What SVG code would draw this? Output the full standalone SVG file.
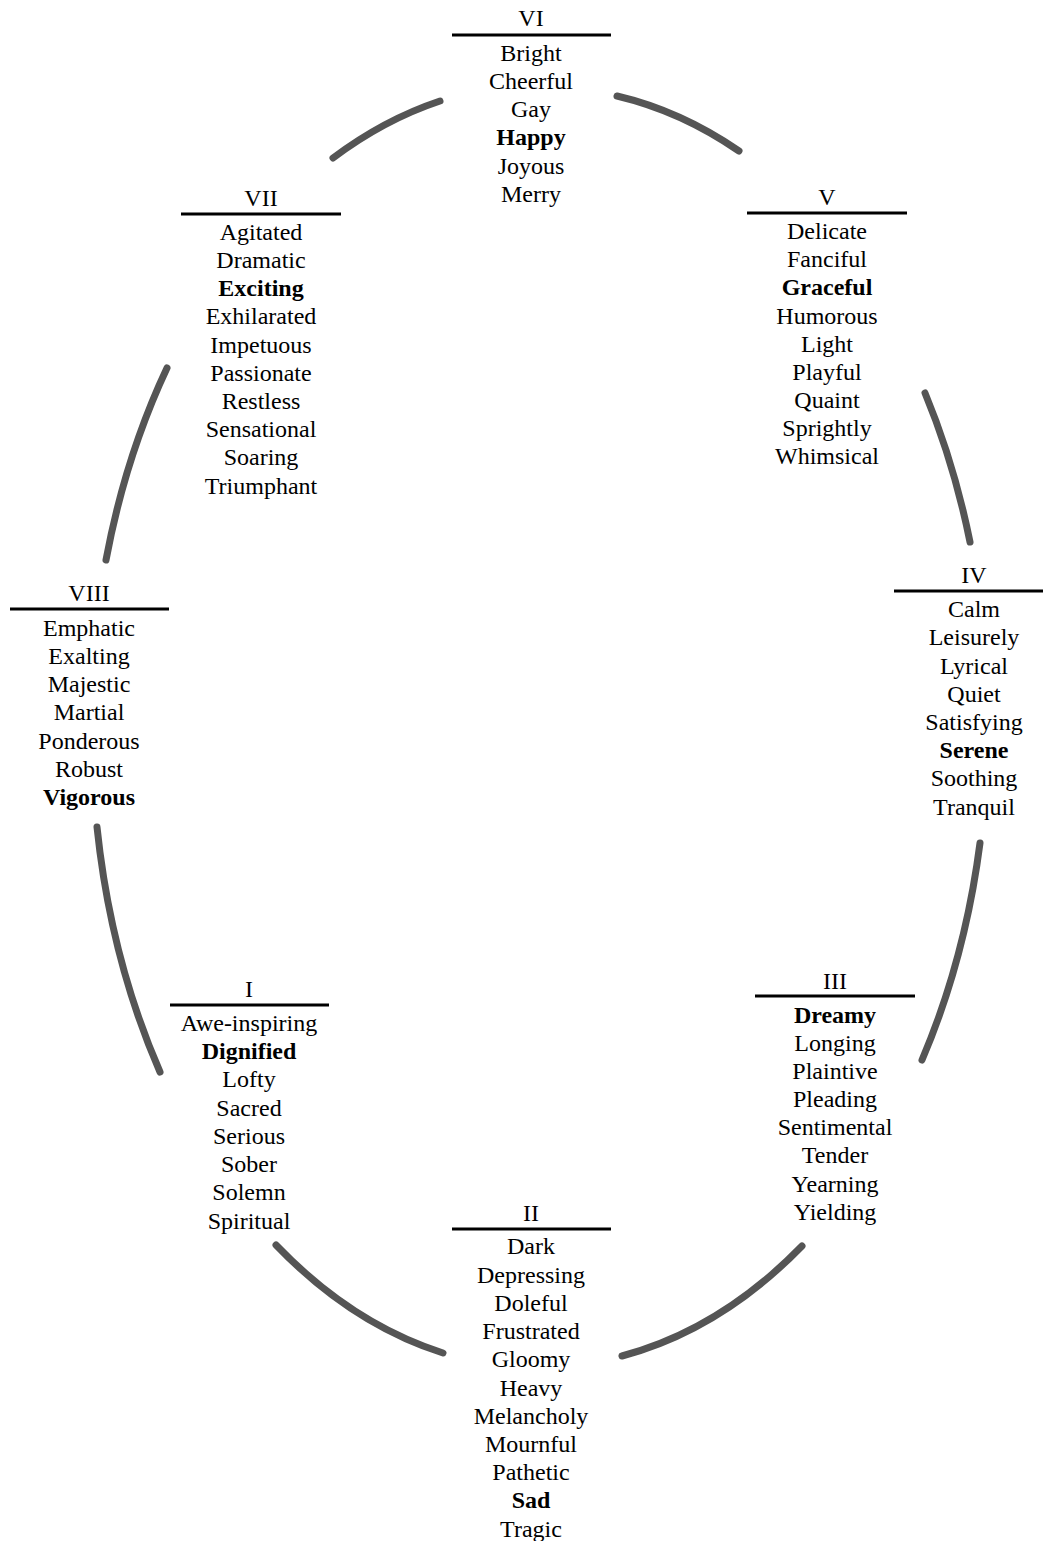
<svg xmlns="http://www.w3.org/2000/svg" width="1043" height="1541" viewBox="0 0 1043 1541" font-family="Liberation Serif, DejaVu Serif, serif">
<style>
text{font-size:24px;fill:#000;text-anchor:middle}
.b{font-weight:bold}
.rule{stroke:#000;stroke-width:3}
.arc{fill:none;stroke:#555;stroke-width:7;stroke-linecap:round}
</style>
<rect width="1043" height="1541" fill="#fff"/>
<g id="connectors">
<path class="arc" d="M617,96 A450,642 0 0 1 739,151"/>
<path class="arc" d="M925,393 A450,642 0 0 1 970,542"/>
<path class="arc" d="M980,843 A450,642 0 0 1 922,1060"/>
<path class="arc" d="M802,1246 A450,642 0 0 1 622,1356"/>
<path class="arc" d="M443,1353 A450,642 0 0 1 276,1245"/>
<path class="arc" d="M160,1072 A450,642 0 0 1 97,827"/>
<path class="arc" d="M106,560 A450,642 0 0 1 167,368"/>
<path class="arc" d="M333,158 A450,642 0 0 1 440,101"/>
</g>
<g id="group-VI" font-family="Liberation Serif, serif">
<text x="531" y="26">VI</text>
<line class="rule" x1="452" y1="35" x2="611" y2="35"/>
<text x="531" y="61">Bright</text>
<text x="531" y="89">Cheerful</text>
<text x="531" y="117">Gay</text>
<text x="531" y="145" class="b">Happy</text>
<text x="531" y="174">Joyous</text>
<text x="531" y="202">Merry</text>
</g>
<g id="group-VII">
<text x="261" y="206">VII</text>
<line class="rule" x1="181" y1="214" x2="341" y2="214"/>
<text x="261" y="240">Agitated</text>
<text x="261" y="268">Dramatic</text>
<text x="261" y="296" class="b">Exciting</text>
<text x="261" y="324">Exhilarated</text>
<text x="261" y="353">Impetuous</text>
<text x="261" y="381">Passionate</text>
<text x="261" y="409">Restless</text>
<text x="261" y="437">Sensational</text>
<text x="261" y="465">Soaring</text>
<text x="261" y="494">Triumphant</text>
</g>
<g id="group-V">
<text x="827" y="205">V</text>
<line class="rule" x1="747" y1="213" x2="907" y2="213"/>
<text x="827" y="239">Delicate</text>
<text x="827" y="267">Fanciful</text>
<text x="827" y="295" class="b">Graceful</text>
<text x="827" y="324">Humorous</text>
<text x="827" y="352">Light</text>
<text x="827" y="380">Playful</text>
<text x="827" y="408">Quaint</text>
<text x="827" y="436">Sprightly</text>
<text x="827" y="464">Whimsical</text>
</g>
<g id="group-IV">
<text x="974" y="583">IV</text>
<line class="rule" x1="894" y1="591" x2="1043" y2="591"/>
<text x="974" y="617">Calm</text>
<text x="974" y="645">Leisurely</text>
<text x="974" y="674">Lyrical</text>
<text x="974" y="702">Quiet</text>
<text x="974" y="730">Satisfying</text>
<text x="974" y="758" class="b">Serene</text>
<text x="974" y="786">Soothing</text>
<text x="974" y="815">Tranquil</text>
</g>
<g id="group-VIII">
<text x="89" y="601">VIII</text>
<line class="rule" x1="10" y1="609" x2="169" y2="609"/>
<text x="89" y="636">Emphatic</text>
<text x="89" y="664">Exalting</text>
<text x="89" y="692">Majestic</text>
<text x="89" y="720">Martial</text>
<text x="89" y="749">Ponderous</text>
<text x="89" y="777">Robust</text>
<text x="89" y="805" class="b">Vigorous</text>
</g>
<g id="group-I">
<text x="249" y="997">I</text>
<line class="rule" x1="170" y1="1005" x2="329" y2="1005"/>
<text x="249" y="1031">Awe-inspiring</text>
<text x="249" y="1059" class="b">Dignified</text>
<text x="249" y="1087">Lofty</text>
<text x="249" y="1116">Sacred</text>
<text x="249" y="1144">Serious</text>
<text x="249" y="1172">Sober</text>
<text x="249" y="1200">Solemn</text>
<text x="249" y="1229">Spiritual</text>
</g>
<g id="group-III">
<text x="835" y="989">III</text>
<line class="rule" x1="755" y1="996" x2="915" y2="996"/>
<text x="835" y="1023" class="b">Dreamy</text>
<text x="835" y="1051">Longing</text>
<text x="835" y="1079">Plaintive</text>
<text x="835" y="1107">Pleading</text>
<text x="835" y="1135">Sentimental</text>
<text x="835" y="1163">Tender</text>
<text x="835" y="1192">Yearning</text>
<text x="835" y="1220">Yielding</text>
</g>
<g id="group-II">
<text x="531" y="1221">II</text>
<line class="rule" x1="452" y1="1229" x2="611" y2="1229"/>
<text x="531" y="1254">Dark</text>
<text x="531" y="1283">Depressing</text>
<text x="531" y="1311">Doleful</text>
<text x="531" y="1339">Frustrated</text>
<text x="531" y="1367">Gloomy</text>
<text x="531" y="1396">Heavy</text>
<text x="531" y="1424">Melancholy</text>
<text x="531" y="1452">Mournful</text>
<text x="531" y="1480">Pathetic</text>
<text x="531" y="1508" class="b">Sad</text>
<text x="531" y="1537">Tragic</text>
</g>
</svg>
